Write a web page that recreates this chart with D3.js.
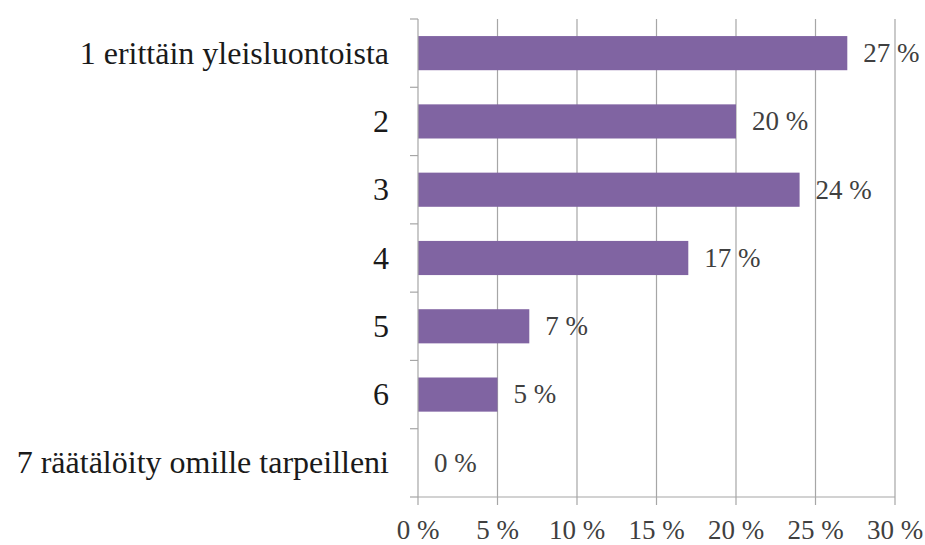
<!DOCTYPE html>
<html><head><meta charset="utf-8">
<script src="https://cdn.jsdelivr.net/npm/d3@7"></script>
<style>body{margin:0;background:#fff}svg{display:block}</style>
</head><body>
<svg id="c" width="925" height="545"></svg>
<script>
const categories = ["1 erittäin yleisluontoista","2","3","4","5","6","7 räätälöity omille tarpeilleni"];
const values = [27,20,24,17,7,5,0];
const xTicks = [0,5,10,15,20,25,30];

const svg = d3.select("#c");
const m = {l:418, r:895, t:19, b:497};
const x = d3.scaleLinear().domain([0,30]).range([m.l,m.r]);
const y = d3.scaleBand().domain(categories).range([m.t,m.b]).paddingInner(0.5).paddingOuter(0.25);
const font = "'Liberation Serif', 'DejaVu Serif', serif";
const grid = "#a6a6a6";

// gridlines
svg.append("g").selectAll("line").data(xTicks.slice(1)).join("line")
  .attr("x1",d=>x(d)).attr("x2",d=>x(d)).attr("y1",m.t).attr("y2",m.b+8)
  .attr("stroke",grid).attr("stroke-width",1.2);

// bars
svg.append("g").selectAll("rect").data(values).join("rect")
  .attr("x",x(0)).attr("y",(d,i)=>y(categories[i]))
  .attr("width",d=>x(d)-x(0)).attr("height",y.bandwidth())
  .attr("fill","#8064a2");

// y axis
const yl = d3.scaleLinear().domain([0,7]).range([m.t,m.b]);
svg.append("line").attr("x1",m.l).attr("x2",m.l).attr("y1",m.t).attr("y2",m.b+8).attr("stroke",grid).attr("stroke-width",1.2);
svg.append("g").selectAll("line").data(d3.range(0,8)).join("line")
  .attr("x1",m.l-8).attr("x2",m.l).attr("y1",d=>yl(d)).attr("y2",d=>yl(d))
  .attr("stroke",grid).attr("stroke-width",1.2);
// x axis
svg.append("line").attr("x1",m.l).attr("x2",m.r).attr("y1",m.b).attr("y2",m.b).attr("stroke",grid).attr("stroke-width",1.2);

// category labels
svg.append("g").selectAll("text").data(categories).join("text")
  .attr("x",m.l-29).attr("y",d=>y(d)+y.bandwidth()/2)
  .attr("dy","0.33em").attr("text-anchor","end")
  .attr("font-family",font).attr("font-size",32).attr("fill","#1a1a1a").text(d=>d);

// tick labels
svg.append("g").selectAll("text").data(xTicks).join("text")
  .attr("x",d=>x(d)).attr("y",530).attr("dy","0.33em").attr("text-anchor","middle")
  .attr("font-family",font).attr("font-size",27).attr("fill","#404040").text(d=>d+" %");

// value labels
svg.append("g").selectAll("text").data(values).join("text")
  .attr("x",d=>x(d)+16).attr("y",(d,i)=>y(categories[i])+y.bandwidth()/2)
  .attr("dy","0.33em").attr("font-family",font).attr("font-size",27).attr("fill","#404040").text(d=>d+" %");
</script>
</body></html>
